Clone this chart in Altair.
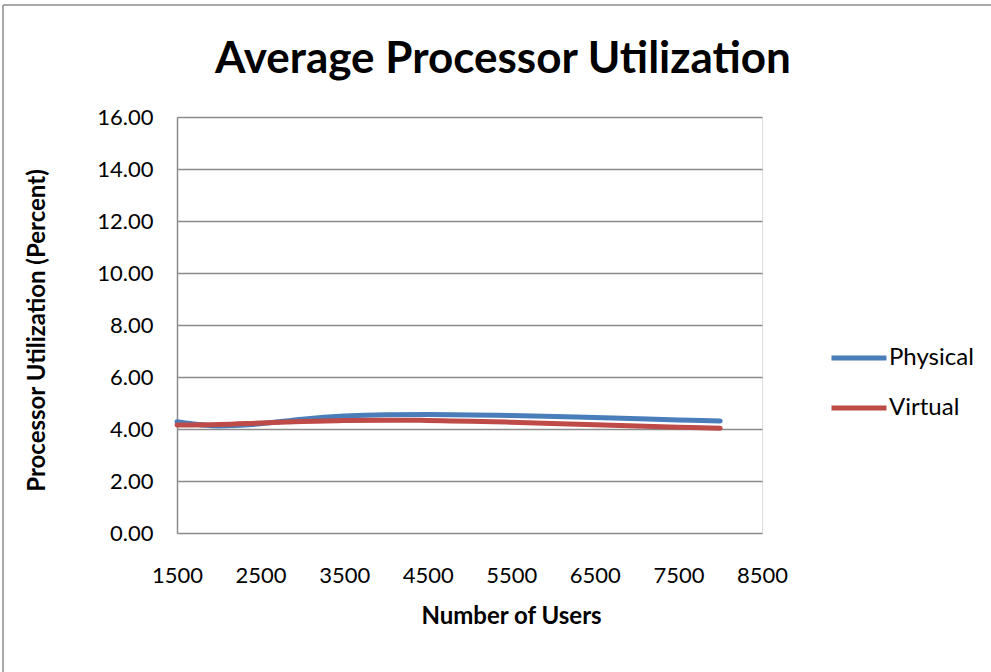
import altair as alt
import pandas as pd

users = [1500, 2000, 2500, 3000, 3500, 4000, 4500, 5500, 6500, 7500, 8000]
physical = [4.28, 4.12, 4.20, 4.38, 4.50, 4.55, 4.56, 4.52, 4.44, 4.35, 4.31]
virtual = [4.15, 4.17, 4.23, 4.29, 4.33, 4.34, 4.33, 4.26, 4.16, 4.07, 4.03]
series_names = ["Physical", "Virtual"]
series_colors = ["#4A7EBB", "#BE4B48"]
x_ticks = [1500, 2500, 3500, 4500, 5500, 6500, 7500, 8500]
y_ticks = [0, 2, 4, 6, 8, 10, 12, 14, 16]
title_text = "Average Processor Utilization"

rows = []
for u, p, v in zip(users, physical, virtual):
    rows.append({"Users": u, "Series": "Physical", "Value": p})
    rows.append({"Users": u, "Series": "Virtual", "Value": v})
df = pd.DataFrame(rows)

FONT = "Lato"

lines = alt.Chart(df).mark_line(strokeWidth=5, interpolate="monotone", strokeCap="round").encode(
    x=alt.X("Users:Q",
            scale=alt.Scale(domain=[1500, 8500], nice=False, zero=False),
            axis=alt.Axis(values=x_ticks, title="Number of Users", grid=False,
                          ticks=False, domain=False, labelPadding=32, labelFlush=False,
                          labelFontSize=22, labelFont=FONT, labelColor="#000000",
                          titleFontSize=24, titleFont=FONT, titleFontWeight="bold",
                          titleColor="#000000", titleX=334, titleY=83,
                          titleAlign="center", titleBaseline="middle", format="d")),
    y=alt.Y("Value:Q",
            scale=alt.Scale(domain=[0, 16], nice=False),
            axis=alt.Axis(values=y_ticks, title="Processor Utilization (Percent)",
                          format=".2f", grid=True, gridColor="#8C8C8C", gridWidth=1.5,
                          ticks=False, domainColor="#8C8C8C", domainWidth=1.5,
                          labelPadding=24, labelFontSize=22, labelFont=FONT,
                          labelColor="#000000", titleFontSize=24, titleFont=FONT,
                          titleFontWeight="bold", titleColor="#000000",
                          titleX=-140, titleY=213, titleAlign="center",
                          titleBaseline="middle", titleAngle=270)),
    color=alt.Color("Series:N",
                    scale=alt.Scale(domain=series_names, range=series_colors),
                    legend=alt.Legend(title=None, orient="none", legendX=652, legendY=211,
                                      symbolType="stroke", symbolSize=3025,
                                      symbolStrokeWidth=5, labelFontSize=24,
                                      labelFont=FONT, labelColor="#000000",
                                      labelOffset=0, rowPadding=8)),
)

title = alt.Chart(pd.DataFrame({"t": [title_text]})).mark_text(
    font=FONT, fontSize=44, fontWeight="bold", color="#000000",
    align="center", baseline="alphabetic").encode(
    text="t:N", x=alt.value(326), y=alt.value(-44))

border_top = alt.Chart(pd.DataFrame({"k": [0]})).mark_rule(color="#8C8C8C", strokeWidth=1.5).encode(
    x=alt.value(-174), x2=alt.value(814), y=alt.value(-112))
border_left = alt.Chart(pd.DataFrame({"k": [0]})).mark_rule(color="#8C8C8C", strokeWidth=1.5).encode(
    x=alt.value(-174), y=alt.value(-112), y2=alt.value(555))

chart = alt.layer(lines, title, border_top, border_left).properties(
    width=585, height=416,
    padding={"left": 177, "top": 117, "right": 229, "bottom": 139},
    autosize=alt.AutoSizeParams(type="none"),
).configure_view(stroke=None).configure(background="white")

chart.save("out.html", embed_options={"renderer": "svg", "actions": False})
